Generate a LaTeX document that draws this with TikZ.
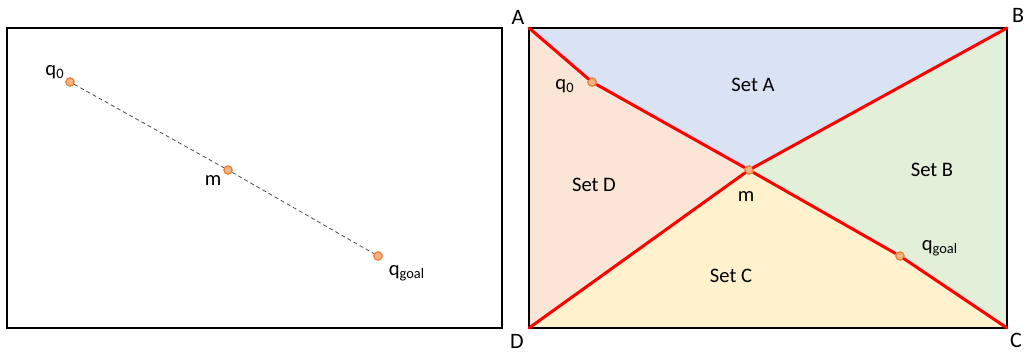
\documentclass[tikz,border=0pt]{standalone}
\usepackage{fontspec}
\setmainfont{Carlito}
\definecolor{setblue}{RGB}{218,227,243}
\definecolor{setgreen}{RGB}{226,240,217}
\definecolor{setyellow}{RGB}{255,242,204}
\definecolor{setorange}{RGB}{251,229,214}
\definecolor{dotfill}{RGB}{244,177,131}
\definecolor{dotedge}{RGB}{237,125,49}
\definecolor{cutred}{RGB}{255,0,0}
\begin{document}
\begin{tikzpicture}[x=0.5pt, y=-0.5pt,
    dot/.style={circle, draw=dotedge, fill=dotfill, line width=0.6pt,
                minimum size=4.2pt, inner sep=0pt},
    lbl/.style={font=\fontsize{10.3}{12}\selectfont, inner sep=0pt},
    corner/.style={font=\fontsize{11}{13}\selectfont, inner sep=0pt},
    cut/.style={cutred, line width=1.5pt},
    frame/.style={draw=black, line width=0.9pt}]
    \useasboundingbox (0,0) rectangle (1026,354);

    % Left panel: straight segment from q_0 to q_goal
    \draw[frame] (7,28) rectangle (502,328);
    \node[dot] (lq0) at (70,82) {};
    \node[dot] (lm)  at (228,170) {};
    \node[dot] (lqg) at (378,256) {};
    \draw[gray!60!black, line width=0.4pt, dash pattern=on 2pt off 1.5pt]
      (lq0) -- (lm) -- (lqg);
    \node[lbl] (lq0t) at (55,72)  {q\textsubscript{0}};
    \node[lbl] (lmt)  at (213,180) {m};
    \node[lbl] (lqgt) at (407,273) {q\textsubscript{goal}};

    % Right panel: corners and path points
    \coordinate (A) at (529,28);
    \coordinate (B) at (1007,28);
    \coordinate (C) at (1007,328);
    \coordinate (D) at (529,328);
    \coordinate (pq0) at (592,82);
    \coordinate (pm)  at (749,170);
    \coordinate (pqg) at (900,256);

    % Four sets
    \fill[setblue]   (A) -- (B) -- (pm) -- (pq0) -- cycle;
    \fill[setgreen]  (B) -- (C) -- (pqg) -- (pm) -- cycle;
    \fill[setyellow] (D) -- (pm) -- (pqg) -- (C) -- cycle;
    \fill[setorange] (A) -- (pq0) -- (pm) -- (D) -- cycle;
    \draw[frame] (A) rectangle (C);

    \node[dot] (rq0) at (pq0) {};
    \node[dot] (rm)  at (pm) {};
    \node[dot] (rqg) at (pqg) {};

    % Red borders between sets
    \draw[cut, line cap=round] (A) -- (rq0);
    \draw[cut] (rq0) -- (rm);
    \draw[cut] (rm) -- (rqg);
    \draw[cut, line cap=round] (rqg) -- (C);
    \draw[cut, line cap=round] (D) -- (rm);
    \draw[cut, line cap=round] (rm) -- (B);

    % Labels
    \node[corner] (At) at (518,17)  {A};
    \node[corner] (Bt) at (1018,15) {B};
    \node[corner] (Ct) at (1016,340) {C};
    \node[corner] (Dt) at (517,341) {D};
    \node[lbl] (rq0t) at (565,86)  {q\textsubscript{0}};
    \node[lbl] (rmt)  at (746,196) {m};
    \node[lbl] (rqgt) at (940,248) {q\textsubscript{goal}};
    \node[lbl] (setA) at (753,85)  {Set A};
    \node[lbl] (setB) at (932,170) {Set B};
    \node[lbl] (setC) at (731,276) {Set C};
    \node[lbl] (setD) at (594,185) {Set D};
\end{tikzpicture}
\end{document}
